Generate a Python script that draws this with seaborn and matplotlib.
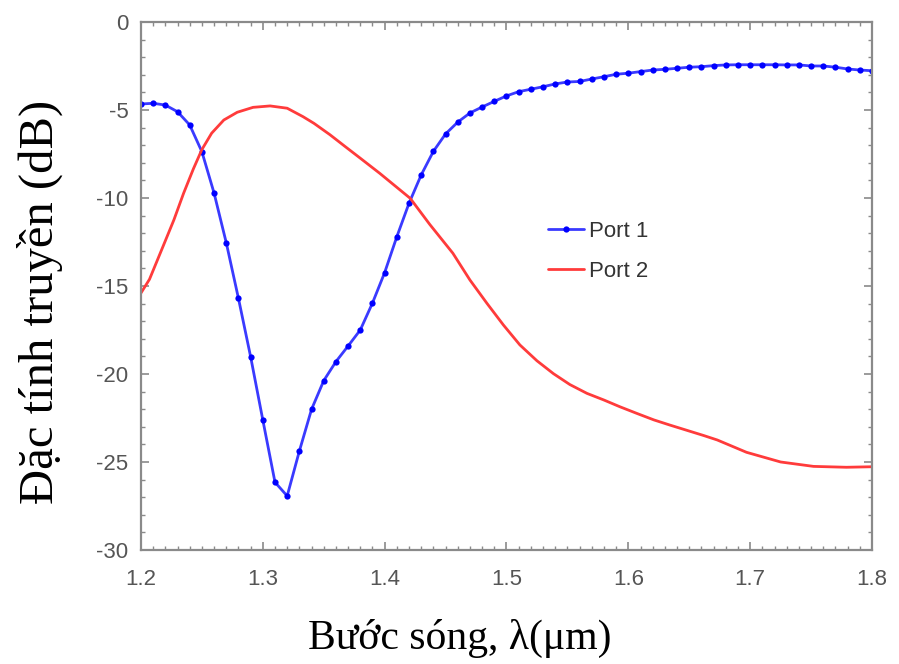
import numpy as np
import pandas as pd
import matplotlib
matplotlib.use("Agg")
import matplotlib.pyplot as plt
import seaborn as sns
from matplotlib.ticker import MultipleLocator

# Port 1: sampled every 0.01 um (markers)
port1_x = [1.20, 1.21, 1.22, 1.23, 1.24, 1.25, 1.26, 1.27, 1.28, 1.29,
           1.30, 1.31, 1.32, 1.33, 1.34, 1.35, 1.36, 1.37, 1.38, 1.39,
           1.40, 1.41, 1.42, 1.43, 1.44, 1.45, 1.46, 1.47, 1.48, 1.49,
           1.50, 1.51, 1.52, 1.53, 1.54, 1.55, 1.56, 1.57, 1.58, 1.59,
           1.60, 1.61, 1.62, 1.63, 1.64, 1.65, 1.66, 1.67, 1.68, 1.69,
           1.70, 1.71, 1.72, 1.73, 1.74, 1.75, 1.76, 1.77, 1.78, 1.79, 1.80]
port1_y = [-4.66, -4.62, -4.72, -5.10, -5.85, -7.37, -9.72, -12.54, -15.70, -19.02,
           -22.61, -26.15, -26.93, -24.38, -22.01, -20.38, -19.30, -18.41, -17.50, -15.97,
           -14.24, -12.20, -10.30, -8.69, -7.35, -6.36, -5.69, -5.17, -4.83, -4.51,
           -4.20, -3.96, -3.82, -3.68, -3.52, -3.41, -3.38, -3.24, -3.11, -2.97,
           -2.91, -2.82, -2.73, -2.69, -2.63, -2.57, -2.54, -2.48, -2.44, -2.43,
           -2.43, -2.43, -2.43, -2.44, -2.44, -2.50, -2.50, -2.57, -2.67, -2.73, -2.77]

# Port 2: smooth curve
port2_x = [1.200, 1.207, 1.218, 1.227, 1.235, 1.243, 1.250, 1.258, 1.268, 1.279,
           1.292, 1.306, 1.320, 1.333, 1.342, 1.355, 1.368, 1.380, 1.396, 1.421,
           1.437, 1.456, 1.470, 1.484, 1.4975, 1.511, 1.525, 1.5385, 1.552, 1.566,
           1.580, 1.593, 1.607, 1.621, 1.634, 1.648, 1.662, 1.673, 1.697, 1.725,
           1.752, 1.779, 1.800]
port2_y = [-15.40, -14.62, -12.77, -11.25, -9.73, -8.35, -7.25, -6.32, -5.57, -5.13,
           -4.85, -4.77, -4.90, -5.38, -5.76, -6.40, -7.10, -7.74, -8.60, -10.02,
           -11.50, -13.14, -14.66, -15.99, -17.22, -18.35, -19.25, -19.98, -20.60, -21.10,
           -21.48, -21.86, -22.24, -22.61, -22.90, -23.20, -23.50, -23.75, -24.45, -25.00,
           -25.25, -25.30, -25.27]

df1 = pd.DataFrame({"x": port1_x, "y": port1_y})
df2 = pd.DataFrame({"x": port2_x, "y": port2_y})

sns.set_theme(style="white")
plt.rcParams['font.family'] = ['Liberation Sans', 'DejaVu Sans']
plt.rcParams['axes.unicode_minus'] = False

fig = plt.figure(figsize=(8.99, 6.64), dpi=100)
ax = fig.add_axes([0.1568, 0.1717, 0.8132, 0.7952])

sns.lineplot(data=df1, x="x", y="y", ax=ax, color="#3a3aff", linewidth=2,
             marker="o", markersize=4.5, markerfacecolor="#0000ff",
             markeredgewidth=0, label="Port 1")
sns.lineplot(data=df2, x="x", y="y", ax=ax, color="#ff3b3b", linewidth=2,
             label="Port 2")

ax.set_xlim(1.2, 1.8)
ax.set_ylim(-30, 0)
ax.xaxis.set_major_locator(MultipleLocator(0.1))
ax.xaxis.set_minor_locator(MultipleLocator(0.01))
ax.yaxis.set_major_locator(MultipleLocator(5))
ax.yaxis.set_minor_locator(MultipleLocator(1))
ax.set_xticklabels([f"{v:.1f}" for v in ax.get_xticks()])

for s in ax.spines.values():
    s.set_color("#8a8a8a")
    s.set_linewidth(1.6)

ax.tick_params(which="both", direction="in", top=True, right=True,
               bottom=True, left=True, colors="#8a8a8a")
ax.tick_params(which="major", length=6, width=1.2, labelsize=16,
               labelcolor="#555555")
ax.tick_params(which="minor", length=3, width=1.0)
ax.tick_params(axis="x", which="major", pad=14)
ax.tick_params(axis="y", which="major", pad=9)

serif = ["Liberation Serif", "DejaVu Serif"]
ax.set_xlabel("Bước sóng, λ(μm)", family=serif, fontsize=30, color="black")
ax.set_ylabel("Đặc tính truyền (dB)", family=serif, fontsize=35, color="black")
ax.xaxis.set_label_coords(0.436, -0.13)
ax.yaxis.set_label_coords(-0.106, 0.47)

leg = ax.legend(loc="upper left", bbox_to_anchor=(0.5568, 0.623), frameon=False,
                fontsize=16, handlelength=1.6, handletextpad=0.25,
                labelspacing=0.85, borderpad=0, borderaxespad=0)
for t in leg.get_texts():
    t.set_color("#333333")

fig.savefig("out.png", dpi=100)
